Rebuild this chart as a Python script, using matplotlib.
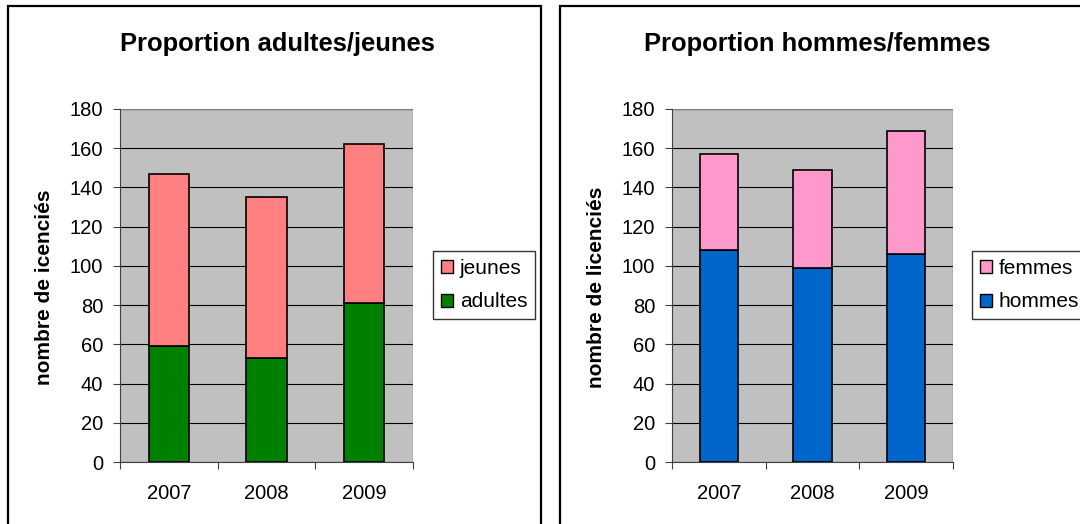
import matplotlib.pyplot as plt
from matplotlib.patches import Rectangle, Patch

plt.rcParams['font.family'] = ['Liberation Sans', 'DejaVu Sans']

# Data
annees = ["2007", "2008", "2009"]
adultes = [59, 53, 81]
jeunes = [88, 82, 81]
hommes = [108, 99, 106]
femmes = [49, 50, 63]

W, H = 1080, 524
fig = plt.figure(figsize=(W / 100, H / 100), dpi=100)


def px(x0, y0, x1, y1):
    # pixel box -> figure fraction [left, bottom, width, height]
    return [x0 / W, 1 - y1 / H, (x1 - x0) / W, (y1 - y0) / H]


# chart frames
for x0, x1 in [(8, 541), (560, 1090)]:
    fig.patches.append(Rectangle((x0 / W, 1 - 530 / H), (x1 - x0) / W, (530 - 6) / H,
                                 transform=fig.transFigure, fill=False,
                                 edgecolor="black", linewidth=1.6, zorder=0))


def draw(rect, bas, haut, c_bas, c_haut, lab_bas, lab_haut, titre, ylab,
         title_x, ylab_x, leg_box):
    ax = fig.add_axes(px(*rect))
    ax.set_facecolor("#C0C0C0")
    x = range(len(annees))
    ax.bar(x, bas, width=0.41, color=c_bas, edgecolor="black", linewidth=1.2, zorder=3)
    ax.bar(x, haut, bottom=bas, width=0.41, color=c_haut, edgecolor="black",
           linewidth=1.2, zorder=3)
    ax.set_xlim(-0.5, 2.5)
    ax.set_ylim(0, 180)
    ax.set_yticks(range(0, 181, 20))
    ax.yaxis.grid(True, color="black", linewidth=0.8, zorder=1)
    ax.set_axisbelow(True)
    ax.set_xticks([-0.5, 0.5, 1.5, 2.5])
    ax.set_xticklabels([])
    ax.set_xticks(list(x), minor=True)
    ax.set_xticklabels(annees, minor=True)
    ax.tick_params(axis="x", which="minor", length=0, pad=16, labelsize=14.5)
    ax.tick_params(axis="x", which="major", length=5, color="#404040")
    ax.tick_params(axis="y", length=5, labelsize=14.5, pad=7, color="#404040")
    for s in ["top", "right"]:
        ax.spines[s].set_visible(False)
    ax.spines["left"].set_color("#404040")
    ax.spines["bottom"].set_color("#404040")
    ax.plot([1, 1], [0, 1], transform=ax.transAxes, color="#808080", linewidth=1)
    ax.plot([0, 1], [1, 1], transform=ax.transAxes, color="#808080", linewidth=1)

    fig.text(title_x / W, 1 - 44 / H, titre, ha="center", va="center",
             fontsize=18.4, fontweight="bold")
    fig.text(ylab_x / W, 1 - 287 / H, ylab, ha="center", va="center",
             rotation=90, fontsize=15, fontweight="bold")

    handles = [Patch(facecolor=c_haut, edgecolor="black", label=lab_haut),
               Patch(facecolor=c_bas, edgecolor="black", label=lab_bas)]
    leg = fig.legend(handles=handles, loc="upper left",
                     bbox_to_anchor=(leg_box[0] / W, 1 - leg_box[1] / H),
                     bbox_transform=fig.transFigure, fontsize=15, frameon=True,
                     fancybox=False, edgecolor="black", handlelength=0.6,
                     handleheight=0.6, handletextpad=0.3, labelspacing=0.7,
                     borderpad=0.38, borderaxespad=0)
    leg.get_frame().set_linewidth(1.0)
    return ax


draw((120, 109, 413, 462), adultes, jeunes, "#008000", "#FF8080",
     "adultes", "jeunes", "Proportion adultes/jeunes", "nombre de icenciés",
     277, 45, (433, 251))
draw((672, 109, 953, 462), hommes, femmes, "#0066CC", "#FF99CC",
     "hommes", "femmes", "Proportion hommes/femmes", "nombre de licenciés",
     817, 597, (972, 251))

plt.savefig("out.png", dpi=100)
